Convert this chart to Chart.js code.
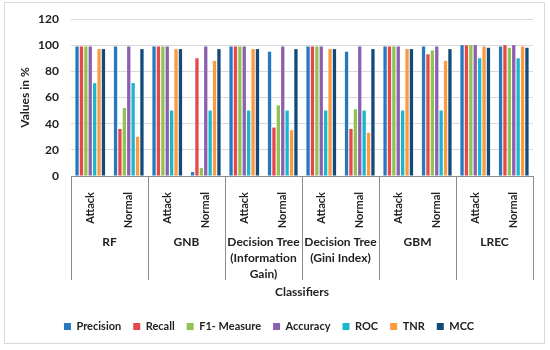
<!DOCTYPE html>
<html>
<head>
<meta charset="utf-8">
<script src="https://cdn.jsdelivr.net/npm/chart.js@4"></script>
<style>
  body { margin: 0; background: #fff; }
  #box { position: absolute; left: 4px; top: 2px; width: 539px; height: 340px; border: 1px solid #d9d9d9; }
</style>
</head>
<body>
<div id="box"><canvas id="myChart" width="539" height="340"></canvas></div>
<script>
// sub labels and classifier groups
const labels = ['Attack', 'Normal', 'Attack', 'Normal', 'Attack', 'Normal', 'Attack', 'Normal', 'Attack', 'Normal', 'Attack', 'Normal'];
const groups = [['RF'], ['GNB'], ['Decision Tree', '(Information', 'Gain)'], ['Decision Tree', '(Gini Index)'], ['GBM'], ['LREC']];

// values (%)
const precision = [99, 99, 99, 3, 99, 95, 99, 95, 99, 99, 100, 99];
const recall    = [99, 36, 99, 90, 99, 37, 99, 36, 99, 93, 100, 100];
const f1        = [99, 52, 99, 6, 99, 54, 99, 51, 99, 96, 100, 98];
const accuracy  = [99, 99, 99, 99, 99, 99, 99, 99, 99, 99, 100, 100];
const roc       = [71, 71, 50, 50, 50, 50, 50, 50, 50, 50, 90, 90];
const tnr       = [97, 30, 97, 88, 97, 35, 97, 33, 97, 88, 99, 99];
const mcc       = [97, 97, 97, 97, 97, 97, 97, 97, 97, 97, 98, 98];

const yTicks = [0, 20, 40, 60, 80, 100, 120];

const FONT = 'Lato';

//グループの区切り線とラベルを描く
const groupPlugin = {
  id: 'groupLabels',
  afterDraw(chart) {
    const ctx = chart.ctx;
    const x = chart.scales.x;
    const bottom = chart.chartArea.bottom;
    const step = (x.right - x.left) / labels.length;
    ctx.save();
    ctx.strokeStyle = '#8c8c8c';
    ctx.lineWidth = 1;
    for (let g = 0; g <= groups.length; g++) {
      const px = Math.round(x.left + g * 2 * step) + 0.5;
      ctx.beginPath();
      ctx.moveTo(px, bottom);
      ctx.lineTo(px, bottom + 104);
      ctx.stroke();
    }
    ctx.fillStyle = '#222';
    ctx.font = 'bold 12px ' + FONT;
    ctx.textAlign = 'center';
    ctx.textBaseline = 'middle';
    groups.forEach(function (lines, g) {
      const cx = (x.getPixelForValue(2 * g) + x.getPixelForValue(2 * g + 1)) / 2;
      lines.forEach(function (t, i) {
        ctx.fillText(t, cx, bottom + 66 + i * 16);
      });
    });
    ctx.restore();
  }
};

const colors = ['#2878be', '#e5484b', '#92c352', '#8b60ae', '#19b6cd', '#fb9a3e', '#124a7a'];
const names = ['Precision', 'Recall', 'F1- Measure', 'Accuracy', 'ROC', 'TNR', 'MCC'];
const series = [precision, recall, f1, accuracy, roc, tnr, mcc];

const ctx = document.getElementById('myChart');
const myChart = new Chart(ctx, {
  type: 'bar',
  data: {
    labels: labels,
    datasets: series.map(function (d, i) {
      return {
        label: names[i],
        data: d,
        backgroundColor: colors[i],
        categoryPercentage: 0.8,
        barPercentage: 0.75,
      };
    }),
  },
  options: {
    responsive: false,
    animation: false,
    layout: { padding: { top: 16, right: 11, left: 0, bottom: 1 } },
    plugins: {
      tooltip: { enabled: false },
      legend: {
        position: 'bottom',
        labels: {
          boxWidth: 7,
          boxHeight: 7,
          padding: 12,
          color: '#222',
          font: { family: FONT, size: 11, weight: 'bold' },
        },
      },
    },
    scales: {
      x: {
        grid: { display: false },
        border: { display: true, color: '#8c8c8c' },
        ticks: {
          minRotation: 90,
          maxRotation: 90,
          padding: 8,
          color: '#222',
          font: { family: FONT, size: 11, weight: 'bold' },
        },
        title: {
          display: true,
          text: 'Classifiers',
          color: '#222',
          font: { family: FONT, size: 12, weight: 'bold' },
          padding: { top: 0, bottom: 10 },
        },
        afterFit: function (scale) { scale.height = 133; },
      },
      y: {
        min: 0,
        max: 120,
        afterBuildTicks: function (scale) { scale.ticks = yTicks.map(function (v) { return { value: v }; }); },
        grid: { color: '#d9d9d9', drawTicks: false },
        border: { display: false },
        ticks: {
          padding: 12,
          color: '#222',
          font: { family: FONT, size: 12, weight: 'bold' },
        },
        title: {
          display: true,
          text: 'Values in %',
          color: '#222',
          font: { family: FONT, size: 12, weight: 'bold' },
          padding: { top: 13, bottom: 0 },
        },
        afterFit: function (scale) { scale.width = 66; scale.paddingTop = 0; scale.paddingBottom = 0; },
      },
    },
  },
  plugins: [groupPlugin],
});
</script>
</body>
</html>
